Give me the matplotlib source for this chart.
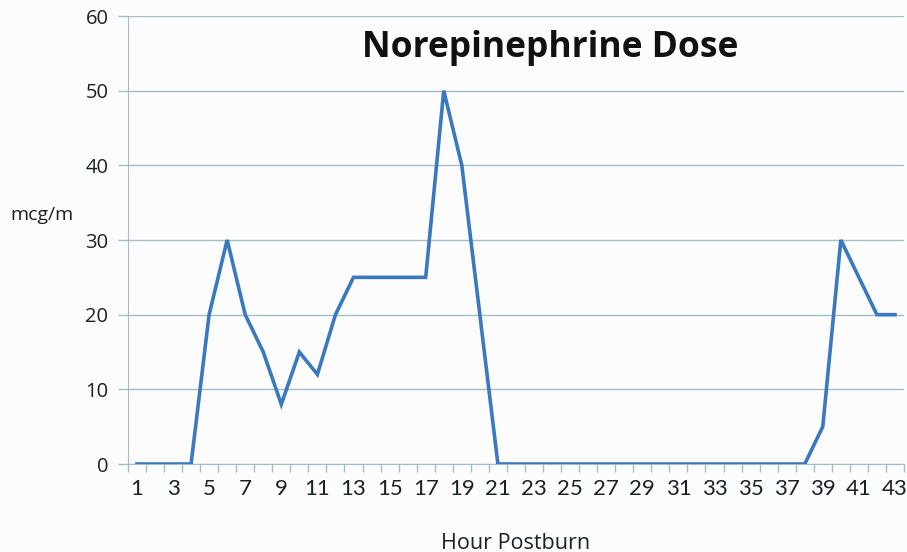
import matplotlib.pyplot as plt
import numpy as np

# hours postburn and norepinephrine dose (mcg/m)
hours = list(range(1, 44))
dose = [0, 0, 0, 0, 20, 30, 20, 15, 8, 15,
        12, 20, 25, 25, 25, 25, 25, 50, 40, 20,
        0, 0, 0, 0, 0, 0, 0, 0, 0, 0,
        0, 0, 0, 0, 0, 0, 0, 0, 5, 30,
        25, 20, 20]
xtick_labels = [str(h) for h in range(1, 44, 2)]
yticks = [0, 10, 20, 30, 40, 50, 60]

grid_col = '#a3bccb'
line_col = '#3a78c0'
text_col = '#1a2228'

fig = plt.figure(figsize=(9.07, 5.52), dpi=100, facecolor='#fcfcfd')
ax = fig.add_axes([0.141, 0.1594, 0.8557, 0.8116])
ax.set_facecolor('#fcfcfd')

ax.plot(hours, dose, color=line_col, linewidth=2.6, solid_joinstyle='miter', zorder=3)

ax.set_xlim(0.5, 43.5)
ax.set_ylim(0, 60)

# y grid + ticks
ax.set_yticks(yticks)
ax.set_yticklabels([str(v) for v in yticks], family='Open Sans', color=text_col)
ax.yaxis.grid(True, color=grid_col, linewidth=1.0)
ax.tick_params(axis='y', length=7, color=grid_col, width=1.0, labelsize=14.5, pad=7)

# x ticks at category boundaries, labels on every other category
ax.set_xticks(np.arange(0.5, 44, 1.0))
ax.set_xticklabels([])
ax.set_xticks(range(1, 44, 2), minor=True)
ax.set_xticklabels(xtick_labels, minor=True, fontsize=16, family='Lato', color=text_col)
ax.tick_params(axis='x', which='minor', length=0, pad=11)
ax.tick_params(axis='x', which='major', length=6, color=grid_col, width=1.0)

for s in ['top', 'right']:
    ax.spines[s].set_visible(False)
ax.spines['left'].set_color(grid_col)
ax.spines['bottom'].set_color(grid_col)

ax.set_xlabel('Hour Postburn', fontsize=15.5, family='Open Sans', color=text_col, labelpad=24)
fig.text(0.011, 0.61, 'mcg/m', fontsize=14, family='Open Sans', color=text_col,
         ha='left', va='center')

ax.text(0.544, 0.928, 'Norepinephrine Dose', transform=ax.transAxes,
        fontsize=25.5, fontweight='bold', family='Open Sans', color='#111111',
        ha='center', va='center')

fig.savefig('out.png', dpi=100, facecolor=fig.get_facecolor())
